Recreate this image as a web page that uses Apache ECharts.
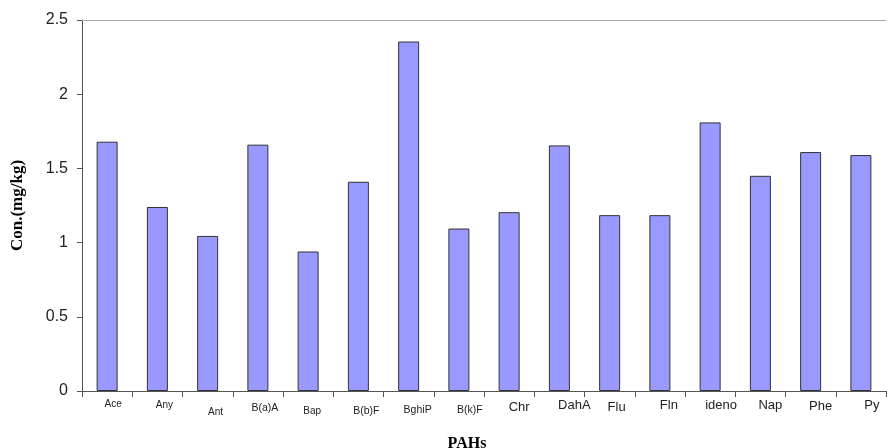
<!DOCTYPE html>
<html><head><meta charset="utf-8">
<script src="https://cdn.jsdelivr.net/npm/echarts@6/dist/echarts.min.js"></script>
<style>html,body{margin:0;padding:0;background:#fff}#c{width:887px;height:448px}</style>
</head><body><div id="c"></div>
<script>
const categories = ['Ace','Any','Ant','B(a)A','Bap','B(b)F','BghiP','B(k)F','Chr','DahA','Flu','Fln','ideno','Nap','Phe','Py'];
const values = [1.68,1.24,1.045,1.66,0.94,1.41,2.355,1.095,1.205,1.655,1.185,1.185,1.81,1.45,1.61,1.59];
const yTicks = [0,0.5,1,1.5,2,2.5];
// per-label look (font size, vertical drop, horizontal shift) as in the original
const labelSize = [10,10,10,10.5,10,10.5,10.5,10.5,13,13,13,13,13,13,13,13];
const labelDrop = [0,1,8,4,7,7,6,6,2,0,2,0,0,0,1,0];
const labelShift = [6,7,8,7,4,8,9,11,10,15,7,9,11,10,10,11];

const catData = categories.map((c,i)=>({
  value:c,
  textStyle:{fontSize:labelSize[i], padding:[labelDrop[i],0,0,labelShift[i]*2]}
}));

const chart = echarts.init(document.getElementById('c'));
chart.setOption({
  animation:false,
  grid:{left:82,right:1,top:20,bottom:57,containLabel:false,outerBoundsMode:'none'},
  xAxis:[{
    type:'category',
    data:catData,
    axisLine:{lineStyle:{color:'#555',width:1}},
    axisTick:{show:true,length:6,lineStyle:{color:'#555'}},
    axisLabel:{interval:0,margin:8,color:'#222',fontFamily:'Liberation Sans'},
    name:'PAHs',
    nameLocation:'middle',
    nameGap:45,
    nameTextStyle:{fontFamily:'Liberation Serif',fontWeight:'bold',fontSize:16,color:'#000',padding:[0,34,0,0]}
  },{
    type:'category',
    position:'top',
    data:categories,
    axisLine:{show:true,lineStyle:{color:'#aaa'}},
    axisTick:{show:false},
    axisLabel:{show:false}
  }],
  yAxis:{
    type:'value',
    min:yTicks[0], max:yTicks[yTicks.length-1], interval:0.5,
    axisLine:{show:true,lineStyle:{color:'#555'}},
    axisTick:{show:true,length:5,lineStyle:{color:'#555'}},
    splitLine:{show:false},
    axisLabel:{color:'#222',fontSize:16,fontFamily:'Liberation Sans',margin:14},
    name:'Con.(mg/kg)',
    nameLocation:'middle',
    nameGap:56,
    nameTextStyle:{fontFamily:'Liberation Serif',fontWeight:'bold',fontSize:17,color:'#000'}
  },
  series:[{
    type:'bar',
    data:values,
    barWidth:21,
    itemStyle:{color:'#9999ff',borderColor:'#333',borderWidth:1}
  }]
});
</script></body></html>
